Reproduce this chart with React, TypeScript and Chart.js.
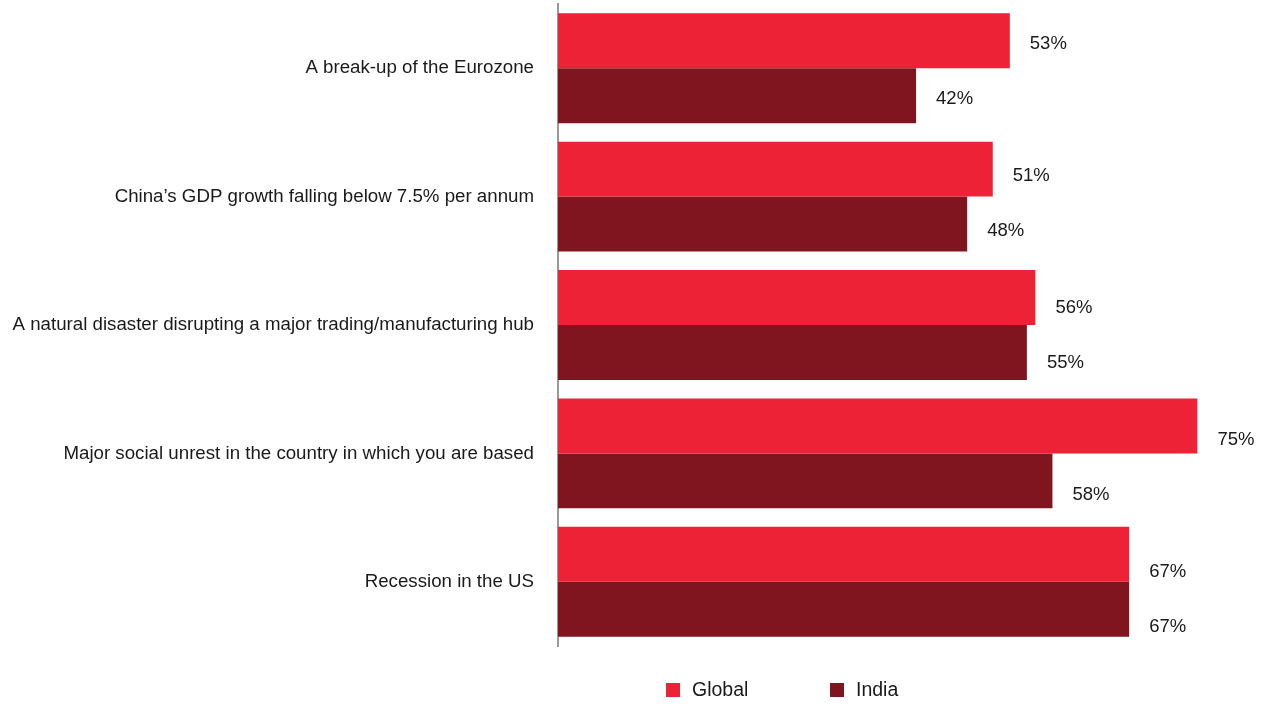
import React, { useEffect, useRef } from "react";
import { Chart, registerables } from "chart.js";

Chart.register(...registerables);

const categories = [
  "A break-up of the Eurozone",
  "China\u2019s GDP growth falling below 7.5% per annum",
  "A natural disaster disrupting a major trading/manufacturing hub",
  "Major social unrest in the country in which you are based",
  "Recession in the US",
];
const globalValues = [53, 51, 56, 75, 67];
const indiaValues = [42, 48, 55, 58, 67];
const seriesNames = ["Global", "India"];
const seriesColors = ["#ED2236", "#80151F"];

const FONT = "'Liberation Sans', Arial, Helvetica, sans-serif";

const labelPlugin = {
  id: "valueLabels",
  afterDatasetsDraw(chart: any) {
    const ctx = chart.ctx;
    ctx.save();
    ctx.font = `18.5px ${FONT}`;
    ctx.fillStyle = "#1a1a1a";
    ctx.textAlign = "left";
    ctx.textBaseline = "middle";
    chart.data.datasets.forEach((ds: any, di: number) => {
      const meta = chart.getDatasetMeta(di);
      meta.data.forEach((bar: any, i: number) => {
        const v = ds.data[i];
        ctx.fillText(`${v}%`, bar.x + 20, bar.y + 3 + i * 3.6);
      });
    });
    // legend
    ctx.font = `19.5px ${FONT}`;
    const items = [
      { x: 666, name: seriesNames[0], color: seriesColors[0] },
      { x: 830, name: seriesNames[1], color: seriesColors[1] },
    ];
    const ly = 690;
    items.forEach((it) => {
      ctx.fillStyle = it.color;
      ctx.fillRect(it.x, ly - 7, 14, 14);
      ctx.fillStyle = "#1a1a1a";
      ctx.fillText(it.name, it.x + 26, ly + 1);
    });
    ctx.restore();
  },
};

export default function App() {
  const ref = useRef<HTMLCanvasElement | null>(null);
  useEffect(() => {
    if (!ref.current) return;
    const chart = new Chart(ref.current, {
      type: "bar",
      data: {
        labels: categories,
        datasets: [
          {
            label: seriesNames[0],
            data: globalValues,
            backgroundColor: seriesColors[0],
            categoryPercentage: 0.856,
            barPercentage: 1.0,
          },
          {
            label: seriesNames[1],
            data: indiaValues,
            backgroundColor: seriesColors[1],
            categoryPercentage: 0.856,
            barPercentage: 1.0,
          },
        ],
      },
      options: {
        indexAxis: "y",
        animation: false,
        responsive: true,
        maintainAspectRatio: false,
        layout: { padding: { top: 4, bottom: 60, right: 30, left: 0 } },
        plugins: {
          legend: { display: false },
          tooltip: { enabled: false },
        },
        scales: {
          x: {
            display: false,
            min: 0,
            max: 80,
          },
          y: {
            afterFit: (scale: any) => {
              scale.width = 558;
              scale.paddingTop = 0;
              scale.paddingBottom = 0;
            },
            grid: { display: false, drawTicks: false },
            border: { display: true, color: "#999999", width: 2 },
            ticks: {
              padding: 24,
              color: "#1a1a1a",
              font: { family: FONT, size: 18.7 },
            },
          },
        },
      },
      plugins: [labelPlugin],
    });
    return () => chart.destroy();
  }, []);
  return (
    <div style={{ position: "fixed", left: 0, top: 0, width: 1270, height: 706, background: "#fff" }}>
      <canvas ref={ref} />
    </div>
  );
}
